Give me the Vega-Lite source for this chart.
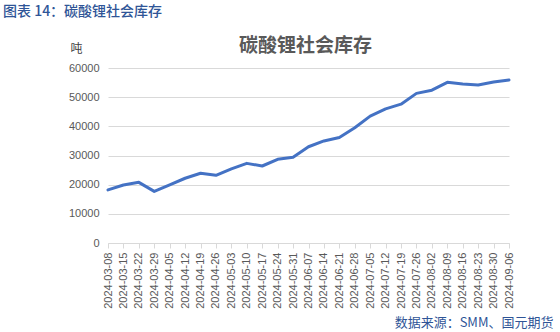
{
  "$schema": "https://vega.github.io/schema/vega-lite/v6.json",
  "autosize": "none",
  "width": 401,
  "height": 175,
  "padding": {"left": 108, "top": 68, "right": 51, "bottom": 89},
  "background": "white",
  "title": {
    "text": "图表 14：碳酸锂社会库存",
    "anchor": "start",
    "frame": "group",
    "dx": -105,
    "offset": 17,
    "font": "Noto Sans CJK SC",
    "fontSize": 14,
    "fontWeight": 500,
    "color": "#2F5597"
  },
  "config": {
    "view": {"stroke": null},
    "axis": {
      "labelFont": "Liberation Sans",
      "labelColor": "#595959",
      "labelFontSize": 11,
      "titleFont": "Noto Sans CJK SC",
      "gridColor": "#d9d9d9",
      "domainColor": "#d9d9d9",
      "tickColor": "#d9d9d9"
    }
  },
  "data": {
    "values": [
      {"date": "2024-03-08", "value": 18200},
      {"date": "2024-03-15", "value": 19900},
      {"date": "2024-03-22", "value": 20800},
      {"date": "2024-03-29", "value": 17700},
      {"date": "2024-04-05", "value": 19900},
      {"date": "2024-04-12", "value": 22200},
      {"date": "2024-04-19", "value": 23900},
      {"date": "2024-04-26", "value": 23200},
      {"date": "2024-05-03", "value": 25400},
      {"date": "2024-05-10", "value": 27300},
      {"date": "2024-05-17", "value": 26400},
      {"date": "2024-05-24", "value": 28700},
      {"date": "2024-05-31", "value": 29400},
      {"date": "2024-06-07", "value": 33000},
      {"date": "2024-06-14", "value": 35000},
      {"date": "2024-06-21", "value": 36200},
      {"date": "2024-06-28", "value": 39500},
      {"date": "2024-07-05", "value": 43500},
      {"date": "2024-07-12", "value": 46000},
      {"date": "2024-07-19", "value": 47600},
      {"date": "2024-07-26", "value": 51300},
      {"date": "2024-08-02", "value": 52400},
      {"date": "2024-08-09", "value": 55100},
      {"date": "2024-08-16", "value": 54500},
      {"date": "2024-08-23", "value": 54200},
      {"date": "2024-08-30", "value": 55200},
      {"date": "2024-09-06", "value": 55900}
    ]
  },
  "encoding": {
    "y": {
      "field": "value",
      "type": "quantitative",
      "scale": {"domain": [0, 60000]},
      "axis": {
        "values": [0, 10000, 20000, 30000, 40000, 50000, 60000],
        "format": "d",
        "labelOverlap": false,
        "domain": false,
        "ticks": false,
        "labelPadding": 9,
        "title": "吨",
        "titleAngle": 0,
        "titleColor": "#404040",
        "titleFontSize": 12,
        "titleFontWeight": "normal",
        "titleAlign": "center",
        "titleBaseline": "middle",
        "titleX": -32,
        "titleY": -20
      }
    }
  },
  "layer": [
    {
      "mark": {"type": "line", "color": "#4472C4", "strokeWidth": 3, "strokeCap": "round", "strokeJoin": "round"},
      "encoding": {
        "x": {
          "field": "date",
          "type": "ordinal",
          "scale": {"type": "point", "padding": 0},
          "axis": {
            "orient": "bottom",
            "labelAngle": -90,
            "labelPadding": 4,
            "tickSize": 5,
            "grid": false,
            "title": "数据来源：SMM、国元期货",
            "titleColor": "#2F5597",
            "titleFontSize": 13,
            "titleFontWeight": "normal",
            "titleAlign": "right",
            "titleBaseline": "middle",
            "titleX": 445,
            "titleY": 79
          }
        }
      }
    },
    {
      "mark": {"type": "line", "strokeOpacity": 0},
      "encoding": {
        "x": {
          "field": "date",
          "type": "ordinal",
          "scale": {"type": "point", "padding": 0},
          "axis": {
            "orient": "top",
            "labels": false,
            "ticks": false,
            "domain": false,
            "grid": false,
            "title": "碳酸锂社会库存",
            "titleColor": "#595959",
            "titleFontSize": 19,
            "titleFontWeight": "bold",
            "titleAlign": "center",
            "titleBaseline": "middle",
            "titleX": 197,
            "titleY": -23
          }
        }
      }
    }
  ],
  "resolve": {"axis": {"x": "independent"}}
}
